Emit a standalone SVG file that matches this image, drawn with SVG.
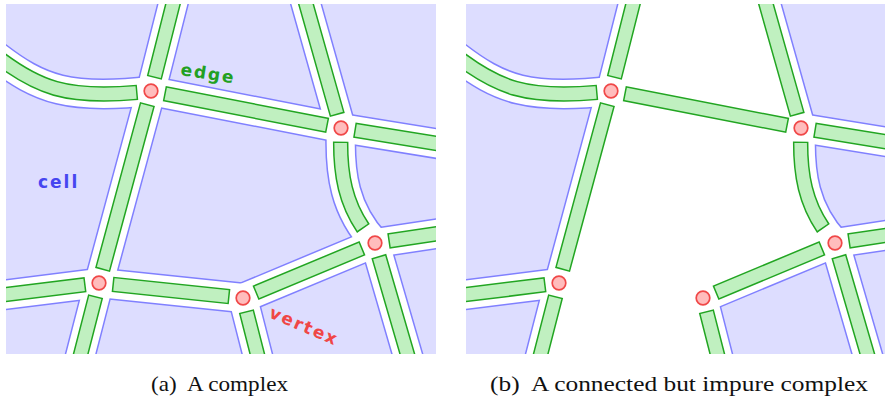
<svg xmlns="http://www.w3.org/2000/svg" xmlns:xlink="http://www.w3.org/1999/xlink" width="885" height="399" viewBox="0 0 885 399">
<style>
.bg{fill:#ddddff}
.bl{fill:none;stroke:#8080ff;stroke-width:31;stroke-linecap:round;stroke-linejoin:round}
.wh{fill:none;stroke:#ffffff;stroke-width:28;stroke-linecap:round;stroke-linejoin:round}
.cover{fill:#ffffff;stroke:#ffffff;stroke-width:1}
.bo{fill:none;stroke:#22a522;stroke-width:15.5}
.bi{fill:none;stroke:#c0f0c0;stroke-width:12.5}
.out.bo{stroke-dasharray:0 13.5 2000}
.out.bi{stroke-dasharray:0 15 2000}
.v{fill:#ffbcbc;stroke:#f04848;stroke-width:1.7}
.lbl{font-family:"DejaVu Sans",sans-serif;font-weight:bold;font-size:17px;letter-spacing:2px}
.cap{font-family:"Liberation Serif",serif;font-size:22px;fill:#111}
</style>
<defs>
<clipPath id="clipA"><rect x="6" y="4" width="430" height="350"/></clipPath>
<clipPath id="clipB"><rect x="6" y="4" width="419" height="350"/></clipPath>
<path id="rA" d="M151,91 C70,100 40,90 -5,55"/>
<path id="rB" d="M151,91 L176,-8"/>
<path id="rC" d="M151,91 L99,283"/>
<path id="rD" d="M151,91 L341,128"/>
<path id="rE" d="M341,128 L302.6,-8"/>
<path id="rF" d="M341,128 L445,144.9"/>
<path id="rG" d="M341,128 C339,175 345,210 375,243" pathLength="100"/>
<path id="rH" d="M375,243 L445,232.5"/>
<path id="rI" d="M375,243 L243,298"/>
<path id="rJ" d="M375,243 L410.5,365"/>
<path id="rK" d="M99,283 L-5,295.9"/>
<path id="rL" d="M99,283 L243,298"/>
<path id="rM" d="M99,283 L77.9,365"/>
<path id="rN" d="M243,298 L260.1,365"/>
</defs>

<!-- Panel (a) -->
<g id="panel-a" clip-path="url(#clipA)">
<rect class="bg" x="6" y="4" width="430" height="350"/>
<g id="connectors-a">
<g id="roads-a-outline">
<use xlink:href="#rA" class="bl"/><use xlink:href="#rB" class="bl"/><use xlink:href="#rC" class="bl"/>
<use xlink:href="#rD" class="bl"/><use xlink:href="#rE" class="bl"/><use xlink:href="#rF" class="bl"/>
<use xlink:href="#rG" class="bl"/><use xlink:href="#rH" class="bl"/><use xlink:href="#rI" class="bl"/>
<use xlink:href="#rJ" class="bl"/><use xlink:href="#rK" class="bl"/><use xlink:href="#rL" class="bl"/>
<use xlink:href="#rM" class="bl"/><use xlink:href="#rN" class="bl"/>
</g>
<g id="roads-a-gap">
<use xlink:href="#rA" class="wh"/><use xlink:href="#rB" class="wh"/><use xlink:href="#rC" class="wh"/>
<use xlink:href="#rD" class="wh"/><use xlink:href="#rE" class="wh"/><use xlink:href="#rF" class="wh"/>
<use xlink:href="#rG" class="wh"/><use xlink:href="#rH" class="wh"/><use xlink:href="#rI" class="wh"/>
<use xlink:href="#rJ" class="wh"/><use xlink:href="#rK" class="wh"/><use xlink:href="#rL" class="wh"/>
<use xlink:href="#rM" class="wh"/><use xlink:href="#rN" class="wh"/>
</g>
<g id="edges-a">
<use xlink:href="#rA" class="bo out"/><use xlink:href="#rA" class="bi out"/>
<use xlink:href="#rB" class="bo out"/><use xlink:href="#rB" class="bi out"/>
<use xlink:href="#rC" class="bo" style="stroke-dasharray:0 13.5 171.9 2000"/><use xlink:href="#rC" class="bi" style="stroke-dasharray:0 15 168.9 2000"/>
<use xlink:href="#rD" class="bo" style="stroke-dasharray:0 13.5 166.6 2000"/><use xlink:href="#rD" class="bi" style="stroke-dasharray:0 15 163.6 2000"/>
<use xlink:href="#rE" class="bo out"/><use xlink:href="#rE" class="bi out"/>
<use xlink:href="#rF" class="bo out"/><use xlink:href="#rF" class="bi out"/>
<use xlink:href="#rG" class="bo" style="stroke-dasharray:0 11 74 100"/><use xlink:href="#rG" class="bi" style="stroke-dasharray:0 12.2 71.6 100"/>
<use xlink:href="#rH" class="bo out"/><use xlink:href="#rH" class="bi out"/>
<use xlink:href="#rI" class="bo" style="stroke-dasharray:0 13.5 116 2000"/><use xlink:href="#rI" class="bi" style="stroke-dasharray:0 15 113 2000"/>
<use xlink:href="#rJ" class="bo out"/><use xlink:href="#rJ" class="bi out"/>
<use xlink:href="#rK" class="bo out"/><use xlink:href="#rK" class="bi out"/>
<use xlink:href="#rL" class="bo" style="stroke-dasharray:0 13.5 117.8 2000"/><use xlink:href="#rL" class="bi" style="stroke-dasharray:0 15 114.8 2000"/>
<use xlink:href="#rM" class="bo out"/><use xlink:href="#rM" class="bi out"/>
<use xlink:href="#rN" class="bo out"/><use xlink:href="#rN" class="bi out"/>
</g>
</g>
<g id="a-v1"><circle class="v" cx="151" cy="91" r="6.8"/></g>
<g id="a-v2"><circle class="v" cx="341" cy="128" r="6.8"/></g>
<g id="a-v3"><circle class="v" cx="375" cy="243" r="6.8"/></g>
<g id="a-v4"><circle class="v" cx="99" cy="283" r="6.8"/></g>
<g id="a-v5"><circle class="v" cx="243" cy="298" r="6.8"/></g>
<text class="lbl" x="38" y="188" fill="#4646f0">cell</text>
<text class="lbl" transform="translate(180,75) rotate(9)" fill="#22a022">edge</text>
<text class="lbl" transform="translate(268,317) rotate(23)" fill="#f04646">vertex</text>
</g>

<!-- Panel (b) -->
<g id="panel-b" transform="translate(460,0)" clip-path="url(#clipB)">
<rect class="bg" x="6" y="4" width="419" height="350"/>
<g id="connectors-b">
<g id="roads-b-outline">
<use xlink:href="#rA" class="bl"/><use xlink:href="#rB" class="bl"/><use xlink:href="#rC" class="bl"/>
<use xlink:href="#rD" class="bl"/><use xlink:href="#rE" class="bl"/><use xlink:href="#rF" class="bl"/>
<use xlink:href="#rG" class="bl"/><use xlink:href="#rH" class="bl"/><use xlink:href="#rI" class="bl"/>
<use xlink:href="#rJ" class="bl"/><use xlink:href="#rK" class="bl"/>
<use xlink:href="#rM" class="bl"/><use xlink:href="#rN" class="bl"/>
</g>
<g id="roads-b-gap">
<use xlink:href="#rA" class="wh"/><use xlink:href="#rB" class="wh"/><use xlink:href="#rC" class="wh"/>
<use xlink:href="#rD" class="wh"/><use xlink:href="#rE" class="wh"/><use xlink:href="#rF" class="wh"/>
<use xlink:href="#rG" class="wh"/><use xlink:href="#rH" class="wh"/><use xlink:href="#rI" class="wh"/>
<use xlink:href="#rJ" class="wh"/><use xlink:href="#rK" class="wh"/>
<use xlink:href="#rM" class="wh"/><use xlink:href="#rN" class="wh"/>
</g>
<g id="removed-cells-b">
<path class="cover" d="M151,91 L176,-8 L302.6,-8 L341,128 Z"/>
<path class="cover" d="M151,91 L341,128 C339,175 345,210 375,243 L243,298 L260.1,365 L77.9,365 L99,283 Z"/>
</g>
<g id="edges-b">
<use xlink:href="#rA" class="bo out"/><use xlink:href="#rA" class="bi out"/>
<use xlink:href="#rB" class="bo out"/><use xlink:href="#rB" class="bi out"/>
<use xlink:href="#rC" class="bo" style="stroke-dasharray:0 13.5 171.9 2000"/><use xlink:href="#rC" class="bi" style="stroke-dasharray:0 15 168.9 2000"/>
<use xlink:href="#rD" class="bo" style="stroke-dasharray:0 13.5 166.6 2000"/><use xlink:href="#rD" class="bi" style="stroke-dasharray:0 15 163.6 2000"/>
<use xlink:href="#rE" class="bo out"/><use xlink:href="#rE" class="bi out"/>
<use xlink:href="#rF" class="bo out"/><use xlink:href="#rF" class="bi out"/>
<use xlink:href="#rG" class="bo" style="stroke-dasharray:0 11 74 100"/><use xlink:href="#rG" class="bi" style="stroke-dasharray:0 12.2 71.6 100"/>
<use xlink:href="#rH" class="bo out"/><use xlink:href="#rH" class="bi out"/>
<use xlink:href="#rI" class="bo" style="stroke-dasharray:0 13.5 116 2000"/><use xlink:href="#rI" class="bi" style="stroke-dasharray:0 15 113 2000"/>
<use xlink:href="#rJ" class="bo out"/><use xlink:href="#rJ" class="bi out"/>
<use xlink:href="#rK" class="bo out"/><use xlink:href="#rK" class="bi out"/>
<use xlink:href="#rM" class="bo out"/><use xlink:href="#rM" class="bi out"/>
<use xlink:href="#rN" class="bo out"/><use xlink:href="#rN" class="bi out"/>
</g>
</g>
<g id="b-v1"><circle class="v" cx="151" cy="91" r="6.8"/></g>
<g id="b-v2"><circle class="v" cx="341" cy="128" r="6.8"/></g>
<g id="b-v3"><circle class="v" cx="375" cy="243" r="6.8"/></g>
<g id="b-v4"><circle class="v" cx="99" cy="283" r="6.8"/></g>
<g id="b-v5"><circle class="v" cx="243" cy="298" r="6.8"/></g>
</g>

<text class="cap" x="151" y="391" textLength="137" lengthAdjust="spacingAndGlyphs" xml:space="preserve">(a)  A complex</text>
<text class="cap" x="490" y="391" textLength="378" lengthAdjust="spacingAndGlyphs" xml:space="preserve">(b)  A connected but impure complex</text>
</svg>
